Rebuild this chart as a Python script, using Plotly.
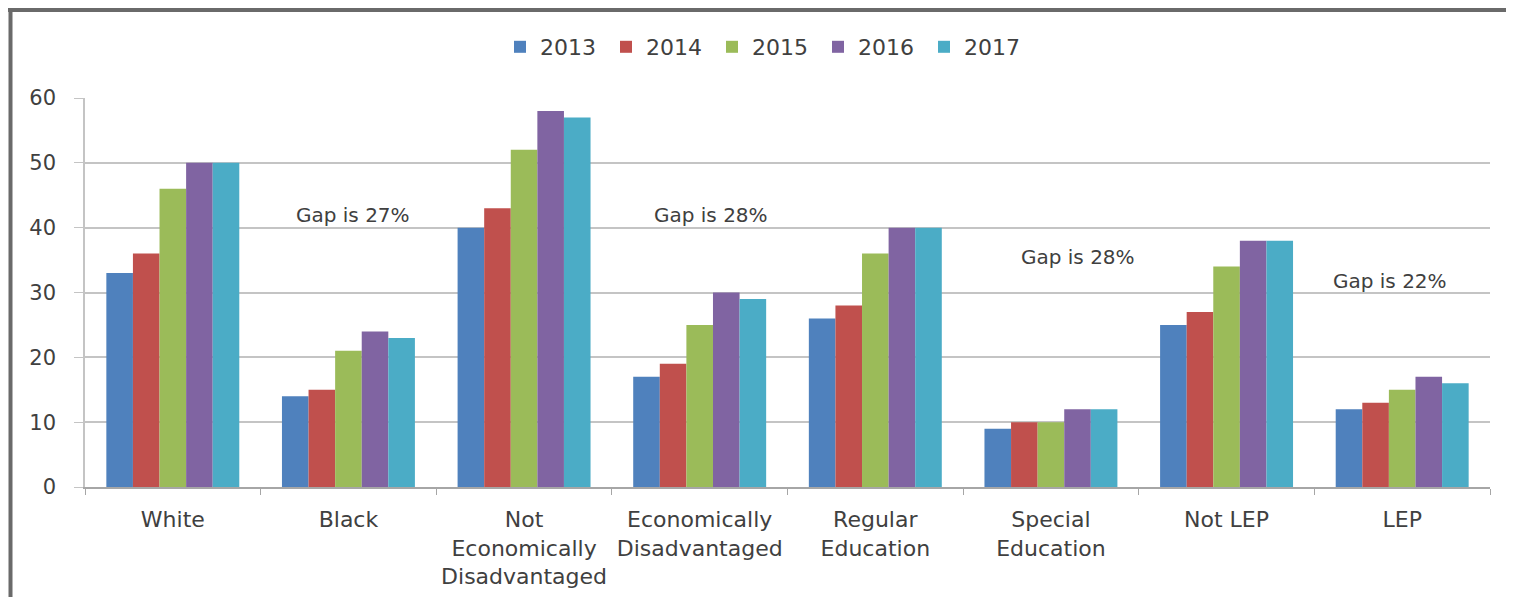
import plotly.graph_objects as go

categories = ["White", "Black", "Not<br>Economically<br>Disadvantaged", "Economically<br>Disadvantaged",
              "Regular<br>Education", "Special<br>Education", "Not LEP", "LEP"]
years = ["2013", "2014", "2015", "2016", "2017"]
v2013 = [33, 14, 40, 17, 26, 9, 25, 12]
v2014 = [36, 15, 43, 19, 28, 10, 27, 13]
v2015 = [46, 21, 52, 25, 36, 10, 34, 15]
v2016 = [50, 24, 58, 30, 40, 12, 38, 17]
v2017 = [50, 23, 57, 29, 40, 12, 38, 16]
series = [v2013, v2014, v2015, v2016, v2017]
colors = ["#4F81BD", "#C0504D", "#9BBB59", "#8064A2", "#4BACC6"]

gap_texts = ["Gap is 27%", "Gap is 28%", "Gap is 28%", "Gap is 22%"]
gap_x = [0.1907, 0.4456, 0.7068, 0.9288]
gap_y = [42, 42, 35.5, 31.8]

FONT = "'DejaVu Sans', sans-serif"

fig = go.Figure()
for name, vals, col in zip(years, series, colors):
    fig.add_trace(go.Bar(name=name, x=categories, y=vals, marker=dict(color=col, line=dict(width=0))))

# page has an 8px body margin; target screen coords are offset by it
OFF = 8
W, H = 1514 - OFF, 597 - OFF
L, T = 85 - OFF, 98 - OFF
pw, ph = 1405, 389
R, B = W - L - pw, H - T - ph


def px_x(x):
    return (x - OFF - L) / pw


def px_y(y):
    return (T + ph - (y - OFF)) / ph


fig.update_layout(
    width=W, height=H,
    margin=dict(l=L, r=R, t=T, b=B, pad=0, autoexpand=False),
    paper_bgcolor="white", plot_bgcolor="white",
    barmode="group", bargap=0.243, bargroupgap=0,
    font=dict(family=FONT, size=20, color="#404040"),
    legend=dict(orientation="h", x=px_x(765), xanchor="center", y=px_y(47), yanchor="middle",
                font=dict(size=22, color="#404040"), itemwidth=30, traceorder="normal",
                entrywidth=61, entrywidthmode="pixels",
                bgcolor="rgba(0,0,0,0)"),
    xaxis=dict(showgrid=False, showline=True, linecolor="#a6a6a6", linewidth=1.5,
               ticks="outside", tickson="boundaries", ticklen=6, tickcolor="#a6a6a6",
               ticklabelstandoff=12, tickangle=0, automargin=False,
               tickfont=dict(size=22, color="#404040"), fixedrange=True),
    yaxis=dict(range=[0, 60], dtick=10, showgrid=True, gridcolor="#c4c4c4", gridwidth=1.5,
               showline=True, linecolor="#c4c4c4", linewidth=1.5, automargin=False,
               ticks="outside", ticklen=9, tickcolor="#c4c4c4", ticklabelstandoff=14,
               tickfont=dict(size=21, color="#404040"), zeroline=False),
)

for t, x, y in zip(gap_texts, gap_x, gap_y):
    fig.add_annotation(text=t, x=x, y=y, xref="paper", yref="y", showarrow=False,
                       font=dict(size=20, color="#404040"), xanchor="center", yanchor="middle")

# outer frame (left and top edges of the picture)
fig.add_shape(type="line", xref="paper", yref="paper", x0=px_x(10.5), x1=px_x(10.5), y0=px_y(8), y1=px_y(600),
              line=dict(color="#6a6a6a", width=4))
fig.add_shape(type="line", xref="paper", yref="paper", x0=px_x(8), x1=px_x(1512), y0=px_y(10), y1=px_y(10),
              line=dict(color="#6a6a6a", width=4))

fig.write_html("out.html")
